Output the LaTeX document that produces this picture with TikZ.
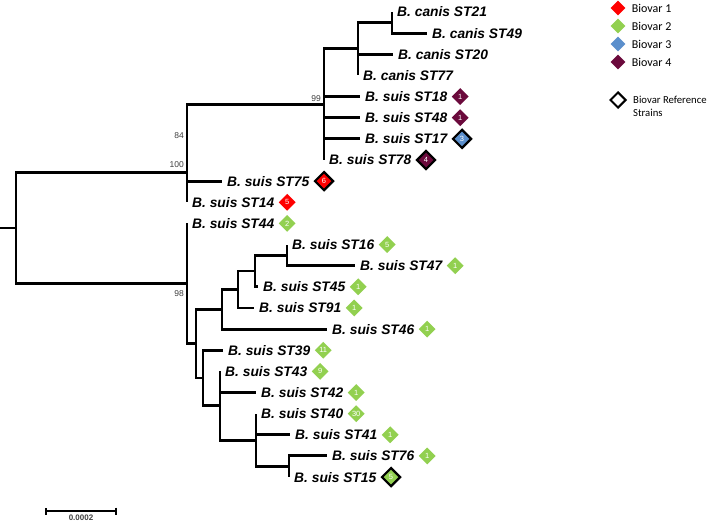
\documentclass[tikz,border=0pt]{standalone}
\usepackage{fontspec}
\newfontfamily\arialfont{Liberation Sans}
\newfontfamily\calfont{Carlito}
\usetikzlibrary{positioning, shapes.geometric, arrows.meta}

\definecolor{bvred}{HTML}{FF0000}
\definecolor{bvgreen}{HTML}{92D050}
\definecolor{bvblue}{HTML}{5B8FCC}
\definecolor{bvmaroon}{HTML}{6B0A3C}

\tikzset{
  branch/.style={line width=2.9pt},
  leaf/.style={inner sep=0pt, font=\arialfont\bfseries\itshape\fontsize{13.8}{15}\selectfont},
  bv/.style={diamond, aspect=1, minimum size=17pt, inner sep=0pt, text=white,
    font=\arialfont\fontsize{7.5}{8}\selectfont},
  bvone/.style={bv, fill=bvred},
  bvtwo/.style={bv, fill=bvgreen},
  bvthree/.style={bv, fill=bvblue},
  bvfour/.style={bv, fill=bvmaroon},
  refstrain/.style={draw=black, line width=2.2pt, minimum size=19pt},
  refone/.style={bvone, refstrain},
  reftwo/.style={bvtwo, refstrain},
  refthree/.style={bvthree, refstrain},
  reffour/.style={bvfour, refstrain},
  boot/.style={inner sep=0pt, text=black!75, font=\arialfont\fontsize{8.5}{9}\selectfont},
  legtxt/.style={inner sep=0pt, font=\calfont\fontsize{12}{13}\selectfont}
}

\begin{document}
\begin{tikzpicture}[x=1pt, y=-1pt]
\fill[white] (0,0) rectangle (708,522);
\useasboundingbox (0,0) rectangle (708,522);

% Puntas de las ramas
\foreach \n/\x [count=\i from 0] in {21/392, 49/427, 20/393, 77/358, 18/360, 48/360,
    17/360, 78/324, 75/222, 14/187, 44/187, 16/287, 47/355, 45/258, 91/254, 46/327,
    39/223, 43/220, 42/256, 40/256, 41/290, 76/327, 15/289}
  \coordinate (e\n) at (\x,{12+21.14*\i});

% Nodos internos
\coordinate (stub) at (0,228);
\coordinate (root) at (16,228);
\coordinate (nU) at (187,172.6);
\coordinate (n84) at (187,142.8);
\coordinate (n99) at (324,104.5);
\coordinate (nCan) at (358,48.9);
\coordinate (nK) at (392,22.5);
\coordinate (nA) at (187,283.5);
\coordinate (nB) at (196,343.6);
\coordinate (g1) at (222,309.3);
\coordinate (g2) at (238,289.5);
\coordinate (g3) at (255,271.0);
\coordinate (g4) at (287,255.1);
\coordinate (h1) at (203,378.0);
\coordinate (h2) at (220,405.8);
\coordinate (h3) at (256,440.1);
\coordinate (h4) at (289,466.5);

% Ramas
\draw[branch] (stub) -- (root);
\foreach \p/\c in {root/nU, root/nA, nU/n84, nU/e14, n84/n99, n84/e75, n99/nCan,
    n99/e18, n99/e48, n99/e17, n99/e78, nCan/nK, nCan/e20, nCan/e77, nK/e21, nK/e49,
    nA/e44, nA/nB, nB/g1, nB/h1, g1/g2, g1/e46, g2/g3, g2/e91, g3/g4, g3/e45,
    g4/e16, g4/e47, h1/e39, h1/h2, h2/e43, h2/e42, h2/h3, h3/e40, h3/e41, h3/h4,
    h4/e76, h4/e15}
  \draw[branch] (\p) |- (\c);

% Bootstrap
\node[boot, above left=3pt and 3pt of n99] (b99) {99};
\node[boot, above left=4pt and 3pt of n84] (b84) {84};
\node[boot, above left=4.5pt and 3pt of nU] (b100) {100};
\node[boot, below left=6.5pt and 3pt of nA] (b98) {98};

% Etiquetas
\foreach \n/\kind in {21/canis, 49/canis, 20/canis, 77/canis, 18/suis, 48/suis,
    17/suis, 78/suis, 75/suis, 14/suis, 44/suis, 16/suis, 47/suis, 45/suis, 91/suis,
    46/suis, 39/suis, 43/suis, 42/suis, 40/suis, 41/suis, 76/suis, 15/suis}
  \node[leaf, right=5pt of e\n] (l\n) {B. \kind\ ST\n};

% Biovares
\foreach \n/\sty/\cnt in {18/bvfour/1, 48/bvfour/1, 17/refthree/3, 78/reffour/4,
    75/refone/6, 14/bvone/5, 44/bvtwo/2, 16/bvtwo/5, 47/bvtwo/1, 45/bvtwo/1,
    91/bvtwo/1, 46/bvtwo/1, 39/bvtwo/11, 43/bvtwo/9, 42/bvtwo/1, 40/bvtwo/30,
    41/bvtwo/1, 76/bvtwo/1, 15/reftwo/5}
  \node[\sty, right=4pt of l\n] (d\n) {\cnt};

% Leyenda
\foreach \sty/\txt [count=\i from 0] in {bvone/Biovar 1, bvtwo/Biovar 2,
    bvthree/Biovar 3, bvfour/Biovar 4}
{
  \node[\sty, minimum size=15pt] (k\i) at (618,{8+18*\i}) {};
  \node[legtxt, right=6pt of k\i] (kt\i) {\txt};
}
\node[bv, fill=white, draw=black, line width=2pt, minimum size=16pt] (kref) at (618,100) {};
\node[legtxt, right=6pt of kref, yshift=-6pt, align=left,
  font=\calfont\fontsize{10.7}{13}\selectfont] (ktref) {Biovar Reference\\Strains};

% Escala
\coordinate (sbl) at (45,511);
\coordinate (sbr) at (117,511);
\draw[line width=1.6pt, {Bar[width=7pt]}-{Bar[width=7pt]}] (sbl) -- node[boot, below=3pt,
  font=\arialfont\bfseries\fontsize{8}{9}\selectfont] (sblab) {0.0002} (sbr);
\end{tikzpicture}
\end{document}
